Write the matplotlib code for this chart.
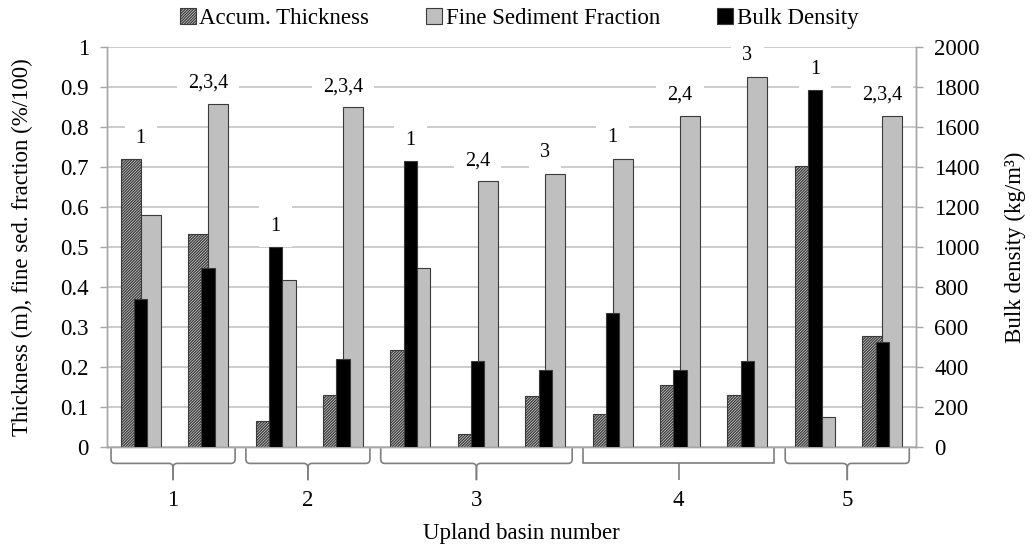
import matplotlib
matplotlib.use("Agg")
import matplotlib.pyplot as plt
from matplotlib.patches import Patch, PathPatch
from matplotlib.path import Path
import matplotlib.transforms as mtransforms
import numpy as np

plt.rcParams['font.family'] = ['Liberation Serif', 'DejaVu Serif']
plt.rcParams['hatch.linewidth'] = 1.0

# ---- data ----
basin_of_group = [1, 1, 2, 2, 3, 3, 3, 4, 4, 4, 5, 5]
thickness = [0.72, 0.533, 0.065, 0.131, 0.243, 0.032, 0.127, 0.083, 0.156, 0.131, 0.703, 0.278]
fine_fraction = [0.58, 0.857, 0.418, 0.849, 0.447, 0.664, 0.683, 0.721, 0.827, 0.926, 0.075, 0.827]
bulk_density = [740, 893, 1000, 441, 1430, 428, 385, 670, 385, 430, 1783, 523]
group_labels = ['1', '2,3,4', '1', '2,3,4', '1', '2,4', '3', '1', '2,4', '3', '1', '2,3,4']
basins = [1, 2, 3, 4, 5]
left_ticks = [0, 0.1, 0.2, 0.3, 0.4, 0.5, 0.6, 0.7, 0.8, 0.9, 1]
right_ticks = [0, 200, 400, 600, 800, 1000, 1200, 1400, 1600, 1800, 2000]

GRAY = '#bfbfbf'
EDGE = '#3a3a3a'
AXC = '#a6a6a6'
FS = 16.5
HATCH = '/' * 12

fig = plt.figure(figsize=(10.32, 5.47), dpi=100)
ax = fig.add_axes([107/1032, 100/547, 809/1032, 400/547])
ax2 = ax.twinx()

x = np.arange(len(thickness))
w1 = 0.297
w2 = 0.198

ax.bar(x - w1/2, thickness, width=w1, facecolor='#f2f2f2', edgecolor=EDGE,
       hatch=HATCH, linewidth=0.8, zorder=3)
ax.bar(x + w1/2, fine_fraction, width=w1, facecolor=GRAY, edgecolor=EDGE,
       linewidth=0.8, zorder=3)
ax2.bar(x, bulk_density, width=w2, facecolor='black', edgecolor=EDGE,
        linewidth=0.8, zorder=3)

ax.set_xlim(-0.5, len(thickness) - 0.5)
ax.set_ylim(0, 1)
ax2.set_ylim(0, 2000)
ax.set_yticks(left_ticks)
ax.set_yticklabels([f'{t:g}' for t in left_ticks])
ax2.set_yticks(right_ticks)
ax.set_xticks([])

ax.grid(axis='y', color=GRAY, linewidth=1.1, zorder=0)
ax.set_axisbelow(True)

for a in (ax, ax2):
    a.spines['top'].set_visible(False)
    for s in ('left', 'right', 'bottom'):
        a.spines[s].set_color(AXC)
        a.spines[s].set_linewidth(1.0)
ax.tick_params(axis='y', direction='out', length=5, width=1.0, color=AXC,
               labelsize=FS, pad=8)
ax2.tick_params(axis='y', direction='out', length=5, width=1.0, color=AXC,
                labelsize=FS, pad=8)

# group significance labels above tallest bar
for i in range(len(thickness)):
    top = max(thickness[i], fine_fraction[i], bulk_density[i] / 2000)
    ax.annotate(group_labels[i], xy=(i, top), xytext=(0, 15),
                textcoords='offset points', ha='center', va='center',
                fontsize=14.5, zorder=2,
                bbox=dict(boxstyle='square,pad=0.55', fc='white', ec='none'))

# axis labels
ax.text(-85/809, 0.5, 'Thickness (m), fine sed. fraction (%/100)', rotation=90,
        transform=ax.transAxes, ha='center', va='center', fontsize=FS)
ax.text(1.1224, 0.5, 'Bulk density (kg/m³)', rotation=90,
        transform=ax.transAxes, ha='center', va='center', fontsize=FS)
ax.text(0.512, -0.215, 'Upland basin number', transform=ax.transAxes,
        ha='center', va='center', fontsize=FS)

# basin braces
trans = mtransforms.blended_transform_factory(ax.transData, ax.transAxes)
y0, yc, yh, yk, yt = -0.003, -0.030, -0.041, -0.053, -0.083
r = 0.06
for b in basins:
    idx = [i for i, g in enumerate(basin_of_group) if g == b]
    L = idx[0] - 0.5 + 0.06
    R = idx[-1] + 0.5 - 0.10
    M = (L + R) / 2
    if b == 4:
        verts = [(L, y0), (L, yh), (R, yh), (R, y0)]
        codes = [Path.MOVETO, Path.LINETO, Path.LINETO, Path.LINETO]
        ax.add_patch(PathPatch(Path(verts, codes), transform=trans, fill=False,
                               ec='#7f7f7f', lw=1.2, clip_on=False))
        ax.add_patch(PathPatch(Path([(M, yh), (M, yt)]), transform=trans,
                               fill=False, ec='#7f7f7f', lw=1.2, clip_on=False))
    else:
        for side in (1, -1):
            E = L if side == 1 else R
            verts = [(E, y0), (E, yc), (E, yh), (E + side * r, yh),
                     (M - side * r, yh), (M, yh), (M, yk), (M, yt)]
            codes = [Path.MOVETO, Path.LINETO, Path.CURVE3, Path.CURVE3,
                     Path.LINETO, Path.CURVE3, Path.CURVE3, Path.LINETO]
            ax.add_patch(PathPatch(Path(verts, codes), transform=trans,
                                   fill=False, ec='#7f7f7f', lw=1.2,
                                   clip_on=False))
    ax.text(M, -0.1325, str(b), transform=trans, ha='center', va='center',
            fontsize=FS)

# legend
handles = [Patch(facecolor='#f2f2f2', edgecolor=EDGE, hatch=HATCH, lw=0.8),
           Patch(facecolor=GRAY, edgecolor=EDGE, lw=0.8),
           Patch(facecolor='black', edgecolor=EDGE, lw=0.8)]
fig.legend(handles, ['Accum. Thickness', 'Fine Sediment Fraction', 'Bulk Density'],
           loc='center', bbox_to_anchor=(0.503, 0.967), ncol=3, frameon=False,
           fontsize=FS, handlelength=0.7, handleheight=0.7, handletextpad=0.15,
           columnspacing=2.5)

fig.savefig('out.png', dpi=100)
